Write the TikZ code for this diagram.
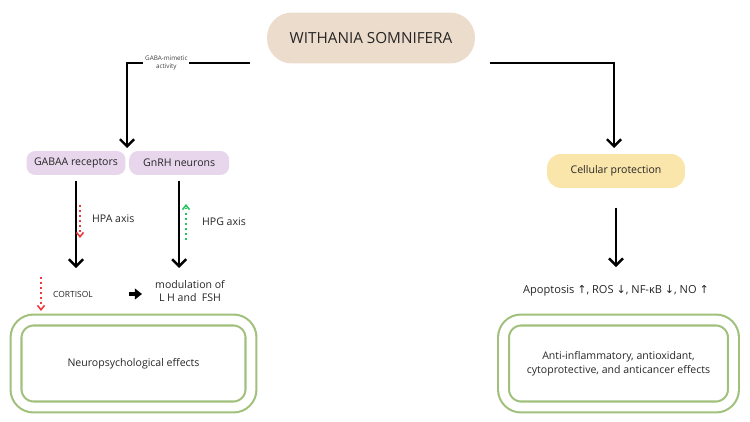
\documentclass[tikz,border=0pt]{standalone}
\usepackage{fontspec}
\setmainfont{Open Sans}
\newfontfamily\arrowfont{DejaVu Sans}
\usepackage{tikz}
\usetikzlibrary{arrows.meta, positioning, calc}

\definecolor{titletan}{RGB}{236,220,203}
\definecolor{lilac}{RGB}{231,214,236}
\definecolor{cellyellow}{RGB}{250,229,170}
\definecolor{boxgreen}{RGB}{160,192,124}
\definecolor{hpared}{RGB}{238,58,58}
\definecolor{hpggreen}{RGB}{40,196,100}

\tikzset{
  titlebox/.style={
    rectangle, rounded corners=0.5cm, minimum width=4.16cm, minimum height=1.02cm,
    fill=titletan, draw=none, text centered, font=\fontsize{8.7}{10}\selectfont,
    text=black!85
  },
  receptor/.style={
    rectangle, rounded corners=5pt, minimum width=1.98cm, minimum height=0.48cm,
    fill=lilac, draw=none, text centered, font=\fontsize{6}{7}\selectfont,
    text=black!85
  },
  protect/.style={
    rectangle, rounded corners=8pt, minimum width=2.76cm, minimum height=0.68cm,
    fill=cellyellow, draw=none, text centered, font=\fontsize{6}{7}\selectfont,
    text=black!85
  },
  effectbox/.style={
    rectangle, rounded corners=10pt, minimum width=4.7cm, minimum height=1.74cm,
    draw=boxgreen, line width=1.2pt, double=white, double distance=5pt,
    align=center, font=\fontsize{6}{8}\selectfont, text=black!85
  },
  plain/.style={align=center, font=\fontsize{6}{7.5}\selectfont, text=black!85},
  arrow/.style={-{Straight Barb[length=4pt, width=8pt]}, line width=1.4pt, color=black},
  fatarrow/.style={-{Triangle[length=4pt, width=6pt]}, line width=2pt, color=black},
  reddots/.style={-{Straight Barb[length=2.5pt, width=4pt]}, dotted, line width=0.9pt, color=hpared},
  greendots/.style={-{Straight Barb[length=2.5pt, width=4pt]}, dotted, line width=0.9pt, color=hpggreen}
}

\begin{document}
\begin{tikzpicture}[x=0.02cm, y=-0.02cm]
  \useasboundingbox (0,0) rectangle (750,422);

  % top
  \node[titlebox] (title) at (371,38) {WITHANIA SOMNIFERA};
  \coordinate (tleft) at (250,63);
  \coordinate (tright) at (490,63);

  % left branch
  \node[receptor] (gabaa) at (76,163) {GABAA receptors};
  \node[receptor, minimum width=2.0cm, right=0.06cm of gabaa] (gnrh) {GnRH neurons};
  \coordinate (split) at (127,148);
  \node[plain, font=\fontsize{4.8}{6}\selectfont] (cortisol) at (73,294) {CORTISOL};
  \node[plain] (lhfsh) at (190,291) {modulation of\\L H and \ FSH};
  \node[plain, anchor=west] (hpa) at (86,219) {HPA axis};
  \node[plain, anchor=west] (hpg) at (196,222) {HPG axis};
  \coordinate (hpatop) at (80,205);
  \coordinate (hpabot) at (80,238);
  \coordinate (hpglow) at (186,240);
  \coordinate (hpghigh) at (186,204);
  \coordinate (cortop) at (41,277);
  \coordinate (corbot) at (41,311);
  \node[effectbox] (neuro) at (133.5,363.5) {Neuropsychological effects};

  % right branch
  \node[protect] (cellprot) at (616,171) {Cellular protection};
  \coordinate (cpin) at (614,148);
  \node[plain, font=\fontsize{6.3}{7.5}\selectfont] (apop) at (616,291)
    {Apoptosis {\arrowfont↑}, ROS {\arrowfont↓}, NF-κB {\arrowfont↓}, NO {\arrowfont↑}};
  \node[effectbox, minimum width=4.6cm] (anti) at (618.5,363.5)
    {Anti-inflammatory, antioxidant,\\cytoprotective, and anticancer effects};

  % connectors
  \draw[arrow] (tleft) -| node[pos=0.34, fill=white, inner sep=1pt, align=center,
    font=\fontsize{3.6}{4.4}\selectfont, text=black!75]{GABA-mimetic\\activity} (split);
  \draw[arrow] (tright) -| (cpin);
  \draw[arrow, shorten <=3pt, shorten >=9.5pt] (gabaa.south) -- (gabaa.south |- cortisol.north);
  \draw[arrow, shorten <=3pt, shorten >=3.5pt] (gnrh.south) -- (gnrh.south |- lhfsh.north);
  \draw[fatarrow, shorten <=17pt, shorten >=4pt] (cortisol.east) -- (cortisol.east -| lhfsh.west);
  \draw[arrow, shorten <=11pt, shorten >=7pt] (cellprot.south) -- (cellprot.south |- apop.north);
  \draw[reddots] (hpatop) -- (hpabot);
  \draw[greendots] (hpglow) -- (hpghigh);
  \draw[reddots] (cortop) -- (corbot);
\end{tikzpicture}
\end{document}
